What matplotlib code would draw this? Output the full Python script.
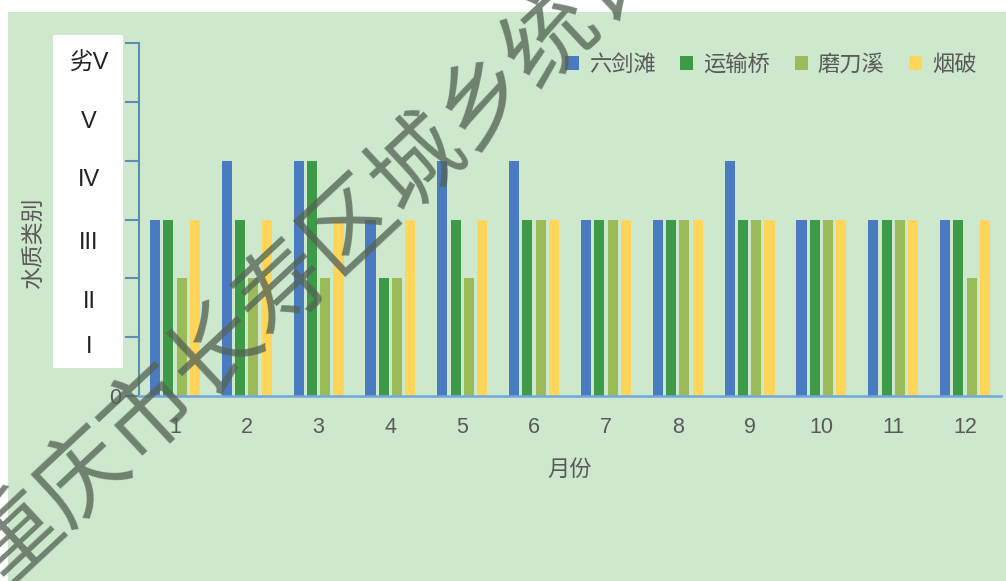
import numpy as np
import matplotlib
matplotlib.use("Agg")
import matplotlib.pyplot as plt
from matplotlib.patches import Rectangle

plt.rcParams['font.family'] = ['Liberation Sans', 'Noto Sans CJK SC', 'DejaVu Sans']

# data (water quality class, 1..6 = I..劣V)
months = list(range(1, 13))
liujiantan = [3, 4, 4, 3, 4, 4, 3, 3, 4, 3, 3, 3]
yunshuqiao = [3, 3, 4, 2, 3, 3, 3, 3, 3, 3, 3, 3]
modaoxi = [2, 2, 2, 2, 2, 3, 3, 3, 3, 3, 3, 2]
yanpo = [3, 3, 3, 3, 3, 3, 3, 3, 3, 3, 3, 3]
series_names = ['六剑滩', '运输桥', '磨刀溪', '烟破']
class_labels = ['劣V', 'V', 'IV', 'III', 'II', 'I']
class_label_px = [63, 122, 180, 243, 302, 347]   # vertical pixel centres in the white box

colors = ['#4a7bc0', '#3d9a47', '#9bbb59', '#ffd55a']
bg = '#cde8cd'
txt = '#595959'

W, H = 1006, 581
fig = plt.figure(figsize=(W / 100, H / 100), dpi=100, facecolor='white')
fig.patches.append(Rectangle((8 / W, 0), 1, 1 - 12 / H, transform=fig.transFigure,
                             facecolor=bg, edgecolor='none', zorder=-10))

ax = fig.add_axes([139 / W, 1 - 396 / H, 862 / W, 353 / H])
ax.set_facecolor(bg)

x = np.array(months)
step, width = 0.185, 0.14
for i, (vals, name) in enumerate(zip([liujiantan, yunshuqiao, modaoxi, yanpo], series_names)):
    ax.bar(x + (i - 1.5) * step, vals, width=width, color=colors[i], label=name, zorder=2)

ax.set_xlim(0.5, 12.5)
ax.set_ylim(0, 6)
ax.set_xticks(months)
ax.set_yticks(range(0, 7))
for s in ['top', 'right']:
    ax.spines[s].set_visible(False)
ax.spines['left'].set_color('#5b8fb0')
ax.spines['left'].set_linewidth(1.5)
ax.spines['bottom'].set_color('#6fa8dc')
ax.spines['bottom'].set_linewidth(1.8)
ax.tick_params(axis='x', length=0, pad=15, labelsize=15.5, labelcolor=txt)
ax.tick_params(axis='y', length=10, width=1.5, color='#5b8fb0', pad=3,
               labelsize=15.5, labelcolor=txt)

ax.set_xlabel('月份', fontsize=16, color=txt, labelpad=16)
fig.text(33 / W, 1 - 243 / H, '水质类别', rotation=90, fontsize=16.5, color=txt,
         ha='center', va='center')

leg = ax.legend(loc='upper right', bbox_to_anchor=(988 / W, 1 - 44 / H),
                bbox_transform=fig.transFigure, ncol=4, frameon=False,
                fontsize=16, handlelength=0.6, handleheight=0.6,
                handletextpad=0.45, columnspacing=1.1, borderpad=0)
for t in leg.get_texts():
    t.set_color(txt)

# white box with class names over the numeric tick labels
fig.patches.append(Rectangle((53 / W, 1 - 368 / H), 70 / W, 333 / H,
                             transform=fig.transFigure, facecolor='white',
                             edgecolor='none', zorder=5))
for lab, py in zip(class_labels, class_label_px):
    fig.text(89 / W, 1 - py / H, lab, fontsize=17, color='#222222',
             ha='center', va='center', zorder=6)

# diagonal watermark
fig.text(318 / W, 1 - 258 / H, '重庆市长寿区城乡统计', rotation=43,
         rotation_mode='anchor', ha='center', va='center', fontsize=66,
         family=['Noto Sans CJK SC'],
         color='#546354', alpha=0.78, zorder=10)

fig.savefig('out.png', dpi=100, facecolor=fig.get_facecolor())
